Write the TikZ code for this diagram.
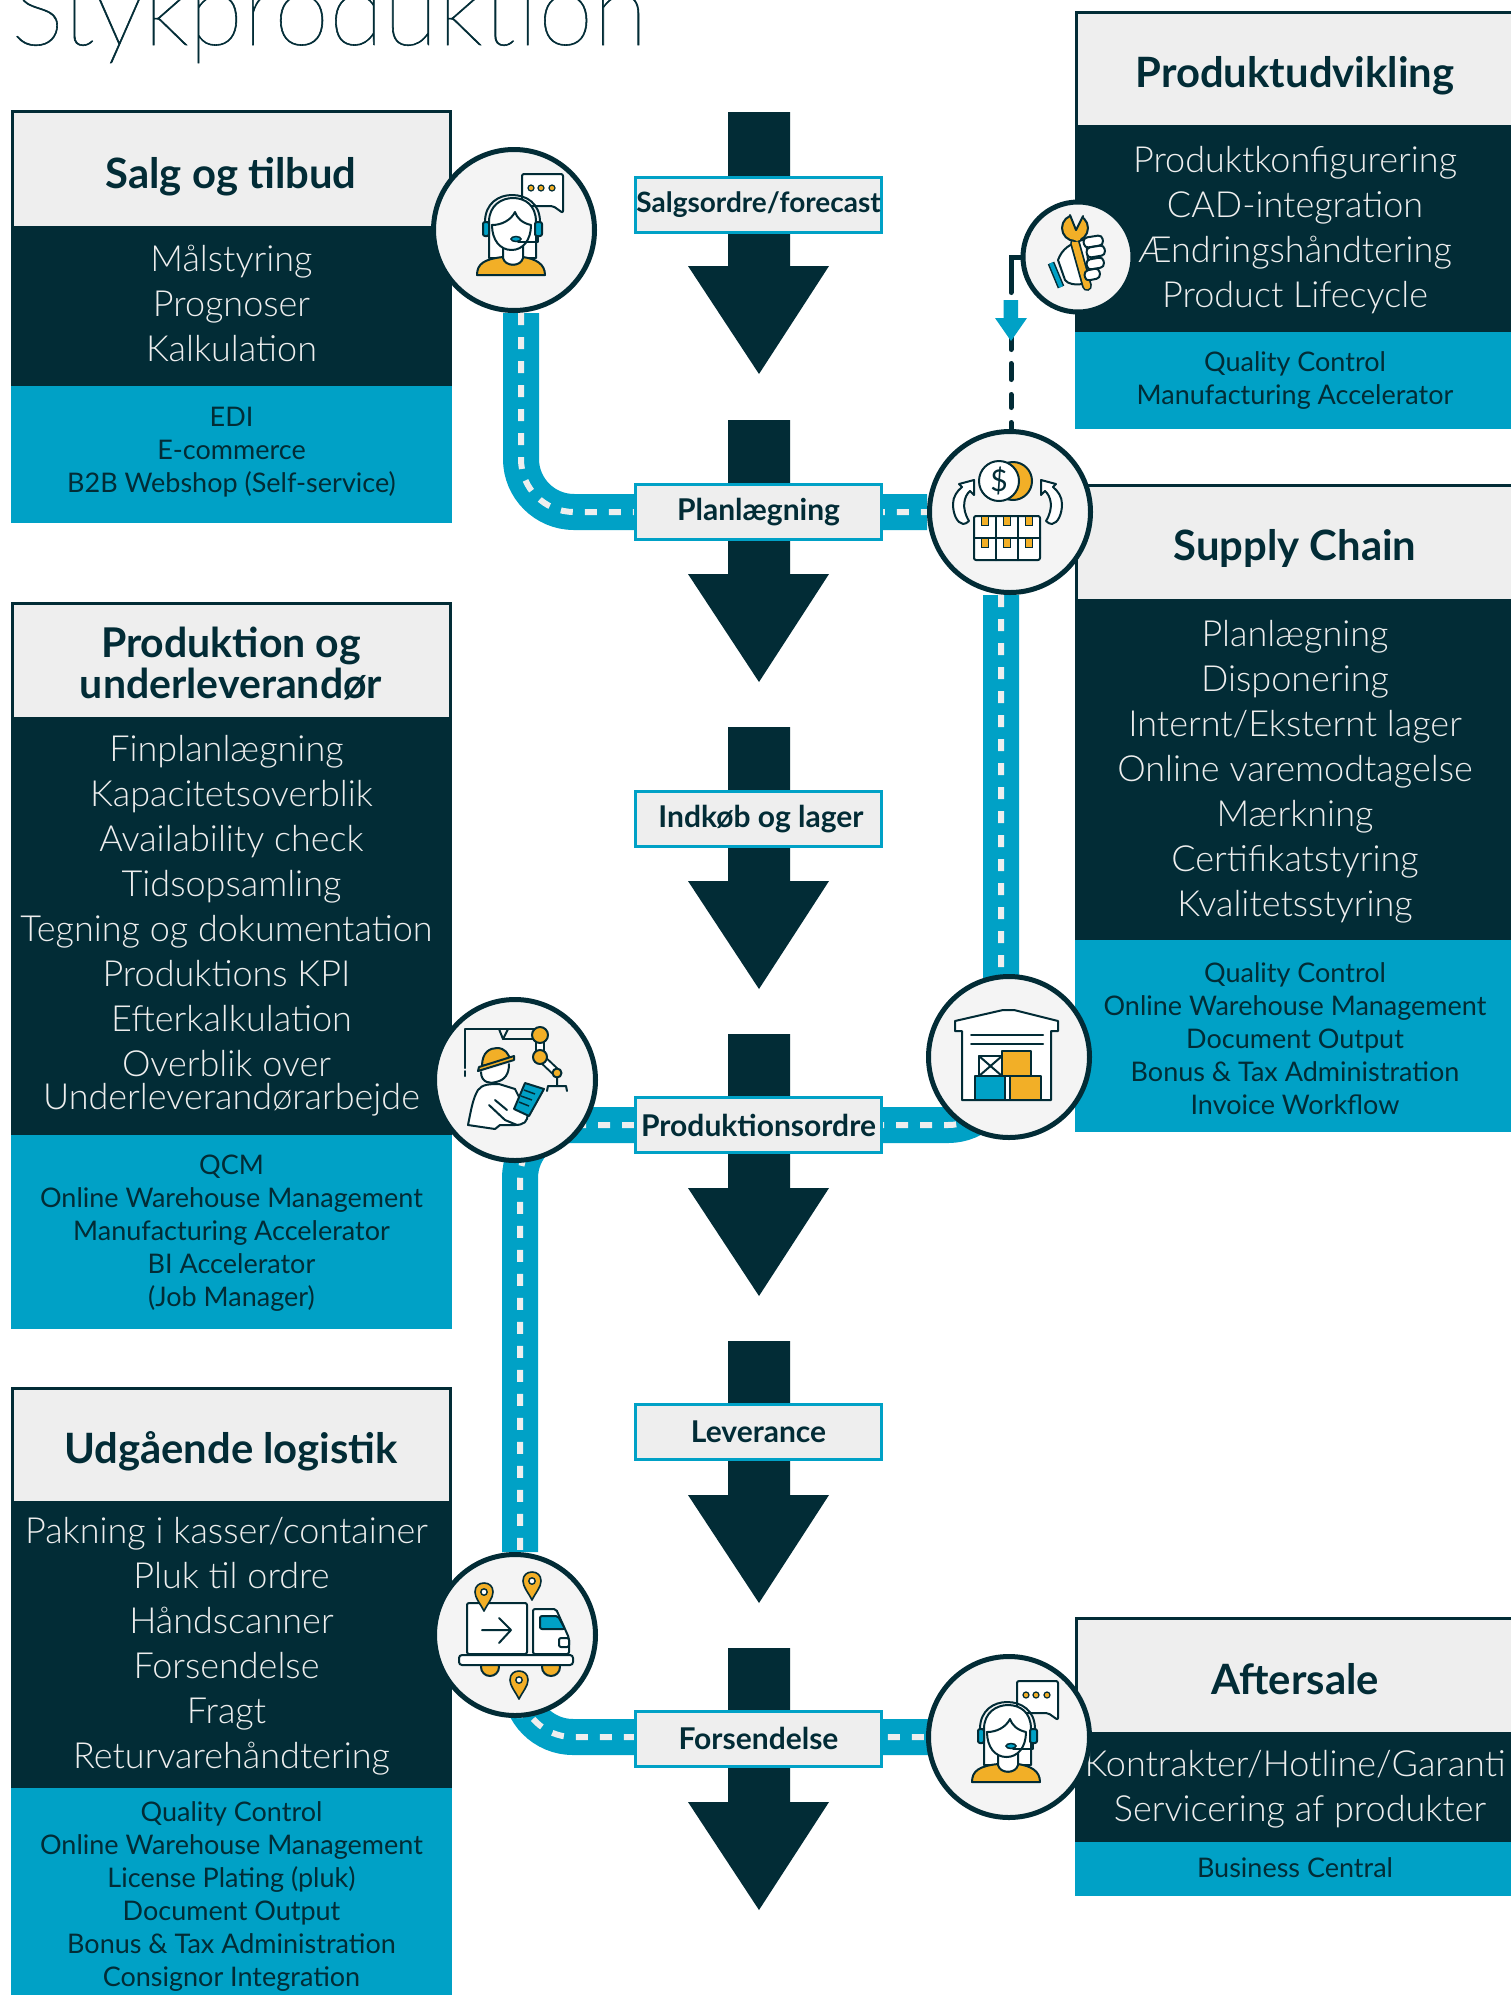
\documentclass[tikz,border=0pt]{standalone}
\usepackage{fontspec}
\setmainfont{Lato}
\newfontfamily\lthin[FakeBold=0.6]{Lato Thin}
\newfontfamily\llight{Lato Light}
\usetikzlibrary{backgrounds}
\definecolor{dk}{HTML}{022C36}
\definecolor{bl}{HTML}{00A1C6}
\definecolor{og}{HTML}{F2AF27}
\definecolor{gy}{HTML}{EEEEEE}
\definecolor{cg}{HTML}{F4F4F4}
\tikzset{
  x=1pt,y=-1pt,
  hdrbox/.style={fill=gy,draw=dk,line width=3pt},
  darkbox/.style={fill=dk},
  bluebox/.style={fill=bl},
  headtxt/.style={text=dk,font=\fontsize{41.8}{42}\selectfont\bfseries,align=center,inner sep=0pt},
  listtxt/.style={text=gy,font=\llight\fontsize{36}{45}\selectfont,align=center,inner sep=0pt},
  subtxt/.style={text=dk,font=\fontsize{27}{33}\selectfont,align=center,inner sep=0pt},
  stage/.style={fill=gy,draw=bl,line width=3pt,minimum width=246pt,minimum height=55pt,inner sep=0pt,text=dk,font=\fontsize{30}{32}\selectfont\bfseries},
  hub/.style={circle,fill=cg,draw=dk,line width=5pt,minimum size=161pt,inner sep=0pt},
  hubsmall/.style={circle,fill=cg,draw=dk,line width=5pt,minimum size=110pt,inner sep=0pt},
  road/.style={draw=bl,line width=36pt,rounded corners=53pt},
  stripe/.style={draw=gy,line width=6pt,dash pattern=on 12pt off 12pt,rounded corners=53pt},
  link/.style={draw=dk,line width=5pt,dash pattern=on 45pt off 10pt on 47pt off 14pt on 16pt off 15pt on 13pt off 15pt on 30pt off 30pt,line cap=round},
  ic/.style={draw=dk,line width=2pt,line join=round,line cap=round},
}
\newcommand{\panel}[5]{\path[#5] (#1,#2) rectangle (#3,#4);}
\newcommand{\blockarrow}[1]{\fill[dk] (728,#1) -- (790,#1) -- (790,#1+154) -- (829,#1+154) -- (759,#1+262) -- (688,#1+154) -- (728,#1+154) -- cycle;}
\newcommand{\lf}{\hbox to 10pt{}}
\newcommand{\personicon}{%
  \draw[ic,fill=white,rounded corners=2pt] (8,-56) -- (49,-56) -- (49,-17) -- (39,-24) -- (8,-24) -- cycle;
  \foreach \q in {17,27,38}{\fill[og,draw=dk,line width=1.2pt] (\q,-42) circle (3);}
  \draw[ic,fill=white] (-25,28) -- (-25,-8) .. controls (-25,-25) and (-12,-32) .. (-1,-32) .. controls (11,-32) and (22,-25) .. (22,-8) -- (22,28) -- cycle;
  \draw[ic,fill=og] (-37,45) .. controls (-37,34) and (-30,29) .. (-11,27) .. controls (-8,37) and (6,37) .. (9,27) .. controls (22,29) and (31,34) .. (31,45) -- cycle;
  \draw[ic,fill=white] (-11,14) -- (-11,28) .. controls (-9,37) and (7,37) .. (9,28) -- (9,14);
  \draw[ic,fill=white] (-22,-5) .. controls (-22,10) and (-14,20) .. (-2.5,20) .. controls (9,20) and (17,10) .. (17,-5) .. controls (8,-7) and (3,-12) .. (1,-18) .. controls (-3,-10) and (-12,-5) .. (-22,-5) -- cycle;
  \draw[ic] (-29,-8) .. controls (-29,-27) and (-15,-35) .. (-2,-35) .. controls (12,-35) and (26,-27) .. (26,-8);
  \draw[ic,fill=bl,rounded corners=2pt] (-31,-8) rectangle (-25,6);
  \draw[ic,fill=bl,rounded corners=2pt] (21,-8) rectangle (28,6);
  \draw[ic] (24,6) -- (24,12) -- (4,12);
  \draw[draw=dk,line width=1.5pt,fill=bl] (2,9) ellipse (5 and 2.5);
}
\newcommand{\swirl}{%
  \draw[ic,fill=white] (-46,12) .. controls (-52,11) and (-56,2) .. (-56,-8) .. controls (-56,-15) and (-52,-21) .. (-47,-25) -- (-50,-28) -- (-35,-32) -- (-35,-17) -- (-39,-21) .. controls (-45,-16) and (-48,-4) .. (-40,9) .. controls (-42,11) and (-44,12) .. (-46,12) -- cycle;
}
\newcommand{\pin}[2]{\draw[ic,line width=1.6pt,fill=og] (#1,#2+16) .. controls (#1-4,#2+8) and (#1-9,#2+3) .. (#1-9,#2-3) .. controls (#1-9,#2-9) and (#1-5,#2-12) .. (#1,#2-12) .. controls (#1+5,#2-12) and (#1+9,#2-9) .. (#1+9,#2-3) .. controls (#1+9,#2+3) and (#1+4,#2+8) .. (#1,#2+16) -- cycle;
  \draw[line width=1.4pt,draw=dk,fill=white] (#1,#2-3) circle (3.2);}
\begin{document}
\begin{tikzpicture}
\useasboundingbox (0,0) rectangle (1511,1995);
\node[anchor=base west,inner sep=0pt,text=dk,font=\lthin\fontsize{100}{100}\selectfont] (title) at (11,45) {Stykproduktion};

% Left panels
\panel{12.5}{111.5}{450.5}{227}{hdrbox}
\panel{11}{226}{452}{386}{darkbox}
\panel{11}{386}{452}{523}{bluebox}
\node[headtxt] (h1) at (231,177) {Salg og tilbud};
\node[listtxt] (l1) at (231.5,303.5) {Målstyring\\Prognoser\\Kalkulation};
\node[subtxt] (s1) at (231.5,452.5) {EDI\\E-commerce\\B2B Webshop (Self-service)};

\panel{12.5}{603.5}{450.5}{718}{hdrbox}
\panel{11}{717}{452}{1135}{darkbox}
\panel{11}{1135}{452}{1329}{bluebox}
\node[headtxt,font=\fontsize{41}{42}\selectfont\bfseries] (h2) at (231,664) {Produktion og\\[-1pt]underleverandør};
\node[listtxt] (l2) at (231.5,926) {Finplanlægning\lf\\Kapacitetsoverblik\\Availability check\\Tidsopsamling\\Tegning og dokumentation\lf\\Produktions KPI\lf\\Efterkalkulation\\Overblik over\lf\\[-12pt]Underleverandørarbejde};
\node[subtxt] (s2) at (231.5,1233) {QCM\\Online Warehouse Management\\Manufacturing Accelerator\\BI Accelerator\\(Job Manager)};

\panel{12.5}{1388.5}{450.5}{1502}{hdrbox}
\panel{11}{1501}{452}{1788}{darkbox}
\panel{11}{1788}{452}{1996}{bluebox}
\node[headtxt] (h3) at (231,1451.5) {Udgående logistik};
\node[listtxt] (l3) at (231.5,1646) {Pakning i kasser/container\lf\\Pluk til ordre\\Håndscanner\\Forsendelse\lf\\Fragt\lf\\Returvarehåndtering};
\node[subtxt] (s3) at (231.5,1896.5) {Quality Control\\Online Warehouse Management\\License Plating (pluk)\\Document Output\\Bonus \& Tax Administration\\Consignor Integration};

% Right panels
\panel{1076.5}{12.5}{1520}{126}{hdrbox}
\panel{1075}{125}{1511}{332}{darkbox}
\panel{1075}{332}{1511}{429}{bluebox}
\node[headtxt] (h4) at (1295,75.5) {Produktudvikling};
\node[listtxt] (l4) at (1295,230) {Produktkonfigurering\\CAD-integration\\Ændringshåndtering\\Product Lifecycle};
\node[subtxt] (s4) at (1295,381) {Quality Control\\Manufacturing Accelerator};

\panel{1076.5}{485.5}{1520}{600}{hdrbox}
\panel{1075}{600}{1511}{940}{darkbox}
\panel{1075}{940}{1511}{1132}{bluebox}
\node[headtxt] (h5) at (1295,548.5) {Supply Chain};
\node[listtxt] (l5) at (1295,771.5) {Planlægning\\Disponering\\Internt/Eksternt lager\\Online varemodtagelse\\Mærkning\\Certifikatstyring\\Kvalitetsstyring};
\node[subtxt] (s5) at (1295,1038.5) {Quality Control\\Online Warehouse Management\\Document Output\\Bonus \& Tax Administration\\Invoice Workflow};

\panel{1076.5}{1618.5}{1520}{1733}{hdrbox}
\panel{1075}{1732}{1511}{1842}{darkbox}
\panel{1075}{1842}{1511}{1896}{bluebox}
\node[headtxt] (h6) at (1295,1679) {Aftersale};
\node[listtxt] (l6) at (1295,1789.5) {Kontrakter/Hotline/Garanti\\\hbox to 10pt{}Servicering af produkter};
\node[subtxt] (s6) at (1295,1867.5) {Business Central};

% Stages
\node[stage,font=\fontsize{28}{30}\selectfont\bfseries] (st1) at (758.5,204.5) {Salgsordre/forecast};
\node[stage] (st2) at (758.5,512) {Planlægning};
\node[stage] (st3) at (758.5,819) {\hbox to 5pt{}Indkøb og lager};
\node[stage] (st4) at (758.5,1125) {Produktionsordre};
\node[stage] (st5) at (758.5,1432) {Leverance};
\node[stage] (st6) at (758.5,1738.5) {Forsendelse};

% Hubs
\node[hub] (c1) at (514,230) {};
\node[hubsmall] (c2) at (1078,257) {};
\node[hub] (c3) at (1010,512) {};
\node[hub] (c4) at (1009,1057) {};
\node[hub] (c5) at (515,1080) {};
\node[hub] (c6) at (515,1635) {};
\node[hub] (c7) at (1009,1737) {};

\begin{scope}[on background layer]
  \fill[white] (0,0) rectangle (1511,1995);
  \blockarrow{112}\blockarrow{420}\blockarrow{727}\blockarrow{1034}\blockarrow{1341}\blockarrow{1648}
  % roads
  \path[road] ([xshift=7pt]c1.south) |- (c3.west);
  \path[stripe] ([xshift=7pt]c1.south) |- (c3.west);
  \path[road] ([xshift=-9pt]c3.south) |- (st4.east);
  \path[stripe] ([xshift=-9pt]c3.south) |- (st4.east);
  \path[road] (st4.west) -| ([xshift=5pt]c6.north);
  \path[stripe] (st4.west) -| ([xshift=5pt]c6.north);
  \path[road] ([xshift=5pt]c6.center) |- (c7.center);
  \path[stripe] ([xshift=5pt]c6.south) |- (c7.center);
  % dashed link
  \draw[link] (c2.west) -| ([xshift=1pt]c3.north);
  \fill[bl] (1003.5,300) -- (1018,300) -- (1018,318) -- (1027,318) -- (1011,341) -- (995,318) -- (1003.5,318) -- cycle;
\end{scope}

% Icons
\begin{scope}[shift={(514,230)}]\personicon\end{scope}
\begin{scope}[shift={(1009,1737)}]\personicon\end{scope}

% tool
\begin{scope}[shift={(1078,257)}]
  \draw[dk,line width=7pt] (-27,6) -- (-17,30);
  \draw[bl,line width=4pt] (-27,6) -- (-17,30);
  \draw[ic,fill=white] (-20,3) .. controls (-16,-8) and (-8,-14) .. (8,-18) -- (12,26) -- (5,27) .. controls (-4,28) and (-10,27) .. (-13,23) -- cycle;
  \draw[dk,line width=10pt,line cap=round] (-3,-14) -- (9,29);
  \draw[og,line width=6.5pt,line cap=round] (-3,-14) -- (9,29);
  \draw[ic,fill=og] (-3,-29) circle (13);
  \fill[cg] (-2,-27) -- (-9,-46) -- (7,-46) -- cycle;
  \draw[ic] (-2,-27) -- (-8,-42);
  \draw[ic] (-2,-27) -- (5,-41);
  \fill[og] (-1,-20) circle (4);
  \foreach \a/\b/\w in {5/-19/19,8/-9/18,8/3/17,6/14/15}{
    \draw[ic,fill=white,rounded corners=4pt] (\a,\b) -- (\a+\w,\b-3) -- (\a+\w+1.5,\b+7) -- (\a+1.5,\b+10) -- cycle;
  }
\end{scope}

% money
\begin{scope}[shift={(1009,512)}]
  \draw[ic,fill=og] (4,-31) circle (19);
  \draw[ic,fill=white] (-10,-31) circle (20);
  \node[text=dk,font=\fontsize{30}{30}\selectfont,inner sep=0pt] (dollar) at (-10,-31) {\$};
  \swirl
  \begin{scope}[xshift=-3pt,xscale=-1]\swirl\end{scope}
  \draw[ic,fill=white,rounded corners=2pt] (-35,4) rectangle (31,48);
  \foreach \q in {-24,-2,20}{
    \draw[line width=1pt,draw=dk,fill=og] (\q-3.5,4) rectangle (\q+3.5,13);
    \draw[line width=1pt,draw=dk,fill=og] (\q-3.5,26) rectangle (\q+3.5,35);
  }
  \draw[ic] (-13,4) -- (-13,48) (9,4) -- (9,48) (-35,26) -- (31,26);
\end{scope}

% warehouse
\begin{scope}[shift={(1009,1057)}]
  \draw[ic,fill=white] (-54,-36) -- (-6,-47) -- (5,-47) -- (49,-36) -- (49,-26) -- (42,-26) -- (42,43) -- (-47,43) -- (-47,-26) -- (-54,-26) -- cycle;
  \draw[ic] (-38,-22) -- (34,-22) (-38,-13) -- (34,-13);
  \draw[ic,fill=white] (-30,-1) rectangle (-7,19);
  \draw[ic] (-30,-1) -- (-7,19) (-30,19) -- (-7,-1);
  \draw[ic,fill=og] (-7,-6) rectangle (22,19);
  \draw[ic,fill=bl] (-34,19) rectangle (-4,43);
  \draw[ic,fill=og] (1,19) rectangle (32,43);
\end{scope}

% robot
\begin{scope}[shift={(515,1080)}]
  \draw[ic] (-50,-12) -- (-50,-51) -- (20,-51);
  \draw[ic] (-50,-9) -- (-50,-4);
  \draw[ic] (-12,-41) -- (20,-41);
  \draw[ic] (-16,-51) -- (-12,-41) -- (-7,-51);
  \draw[dk,line width=10pt] (25,-45) -- (25,-23);
  \draw[white,line width=6pt] (25,-45) -- (25,-23);
  \draw[dk,line width=9pt] (25,-23) -- (42,-7);
  \draw[white,line width=5pt] (25,-23) -- (42,-7);
  \draw[ic,fill=og] (25,-45) circle (8);
  \draw[ic,fill=og] (25,-23) circle (7);
  \draw[ic,fill=og] (42,-7) circle (4.5);
  \draw[ic] (42,-2) -- (42,6) (32,11) -- (33,6) -- (51,6) -- (52,11);
  \draw[ic,fill=white] (-34,-8) .. controls (-34,3) and (-24,4) .. (-19,2) .. controls (-10,0) and (-6,-6) .. (-6,-16);
  \draw[ic,fill=og] (-33,-14) .. controls (-33,-28) and (-25,-32) .. (-18,-32) .. controls (-10,-32) and (-6,-26) .. (-5,-20) -- cycle;
  \draw[ic,fill=og] (-37,-9) -- (-36,-13) -- (-1,-24) -- (-1,-20) -- cycle;
  \draw[ic,fill=white] (-47,45) .. controls (-44,30) and (-42,18) .. (-37,10) .. controls (-33,4) and (-24,4) .. (-16,4) -- (0,9) -- (12,33) .. controls (14,42) and (8,45) .. (0,45) -- (-15,45) -- (-20,49) -- cycle;
  \draw[ic,fill=bl] (10,3) -- (29,9) -- (14,36) -- (-1,29) -- cycle;
  \draw[dk,line width=1.5pt] (9,10) -- (20,14) (6,16) -- (17,20) (4,22) -- (14,26);
  \draw[ic] (-26,25) -- (-10,40) -- (2,45);
  \draw[ic] (-20,20) -- (-8,30);
\end{scope}

% truck
\begin{scope}[shift={(515,1635)}]
  \draw[ic,fill=white,rounded corners=2pt] (-48,19) -- (-48,-32) -- (12,-32) -- (12,19) -- cycle;
  \draw[ic] (-33,-5) -- (-4,-5) (-16,-17) -- (-4,-5) -- (-16,8);
  \draw[ic,fill=white,rounded corners=2pt] (18,19) -- (18,-26) -- (41,-26) -- (54,3) -- (54,19) -- cycle;
  \draw[ic,fill=bl,rounded corners=2pt] (25,-19) -- (43,-19) -- (50,-6) -- (25,-6) -- cycle;
  \draw[ic,fill=white,rounded corners=2pt] (44,3) -- (54,3) -- (54,12) -- (44,12) -- cycle;
  \draw[ic,fill=og] (-25,32) circle (9);
  \draw[ic,fill=og] (36,32) circle (9);
  \draw[ic,fill=white,rounded corners=3pt] (-56,20) rectangle (58,30);
  \pin{-31}{-40}
  \pin{17}{-51}
  \pin{4}{48}
\end{scope}
\end{tikzpicture}
\end{document}
